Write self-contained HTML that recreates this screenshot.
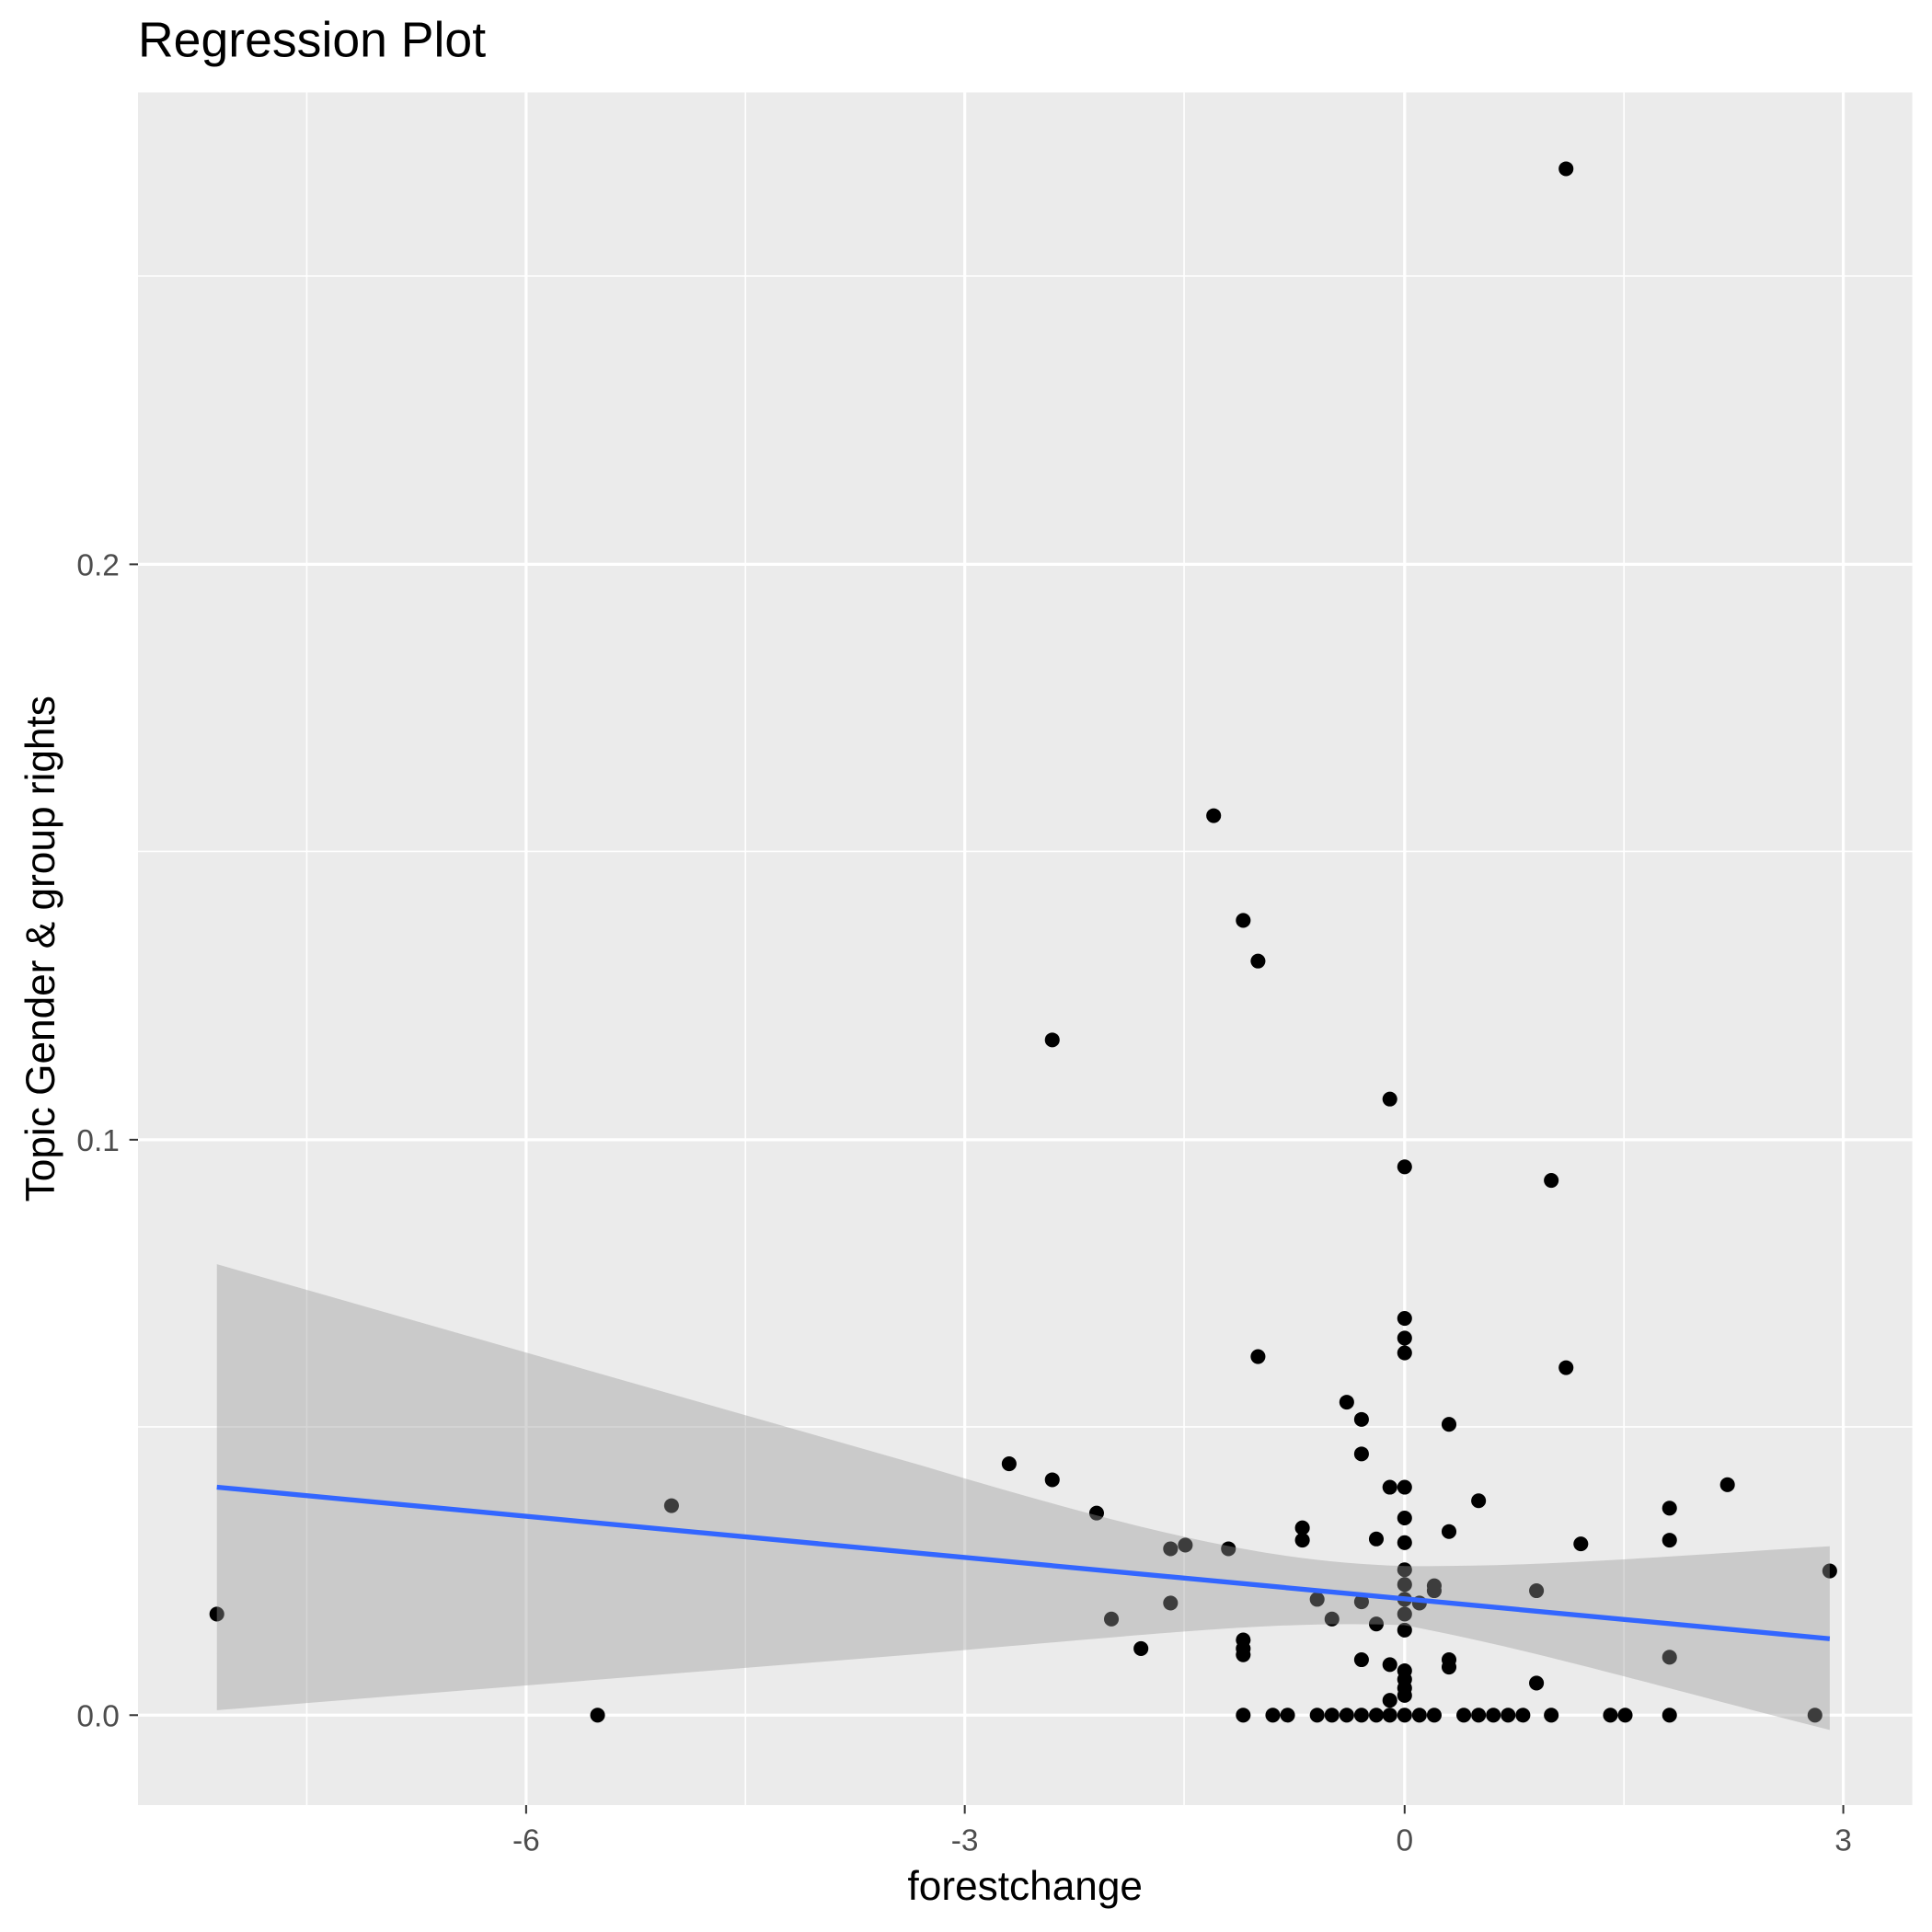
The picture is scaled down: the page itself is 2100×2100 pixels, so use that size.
<!DOCTYPE html>
<html><head><meta charset="utf-8"><style>html,body{margin:0;padding:0;background:#fff}svg{display:block}</style></head>
<body>
<svg width="2100" height="2100" viewBox="0 0 1568 1568" xmlns="http://www.w3.org/2000/svg" font-family="Liberation Sans, sans-serif">
<rect width="1568" height="1568" fill="#fff"/>
<rect x="112" y="75" width="1440" height="1390" fill="#ebebeb"/>
<g stroke="#fff" stroke-width="1.2">
<line x1="249" y1="75" x2="249" y2="1465"/><line x1="605" y1="75" x2="605" y2="1465"/><line x1="961" y1="75" x2="961" y2="1465"/><line x1="1318" y1="75" x2="1318" y2="1465"/>
<line x1="112" y1="1158" x2="1552" y2="1158"/><line x1="112" y1="691" x2="1552" y2="691"/><line x1="112" y1="224" x2="1552" y2="224"/>
</g>
<g stroke="#fff" stroke-width="2.4">
<line x1="427" y1="75" x2="427" y2="1465"/><line x1="783" y1="75" x2="783" y2="1465"/><line x1="1140" y1="75" x2="1140" y2="1465"/><line x1="1496" y1="75" x2="1496" y2="1465"/>
<line x1="112" y1="1392" x2="1552" y2="1392"/><line x1="112" y1="925" x2="1552" y2="925"/><line x1="112" y1="458" x2="1552" y2="458"/>
</g>
<g fill="#000">
<circle cx="1271" cy="137" r="6"/><circle cx="985" cy="662" r="6"/><circle cx="1009" cy="747" r="6"/><circle cx="1021" cy="780" r="6"/><circle cx="854" cy="844" r="6"/><circle cx="1128" cy="892" r="6"/><circle cx="1140" cy="947" r="6"/><circle cx="1259" cy="958" r="6"/><circle cx="1140" cy="1070" r="6"/><circle cx="1140" cy="1086" r="6"/><circle cx="1140" cy="1098" r="6"/><circle cx="1021" cy="1101" r="6"/><circle cx="1271" cy="1110" r="6"/><circle cx="1093" cy="1138" r="6"/><circle cx="1105" cy="1152" r="6"/><circle cx="1176" cy="1156" r="6"/><circle cx="1105" cy="1180" r="6"/><circle cx="819" cy="1188" r="6"/><circle cx="854" cy="1201" r="6"/><circle cx="1402" cy="1205" r="6"/><circle cx="1128" cy="1207" r="6"/><circle cx="1140" cy="1207" r="6"/><circle cx="545" cy="1222" r="6"/><circle cx="1200" cy="1218" r="6"/><circle cx="1355" cy="1224" r="6"/><circle cx="890" cy="1228" r="6"/><circle cx="1140" cy="1232" r="6"/><circle cx="1057" cy="1240" r="6"/><circle cx="1176" cy="1243" r="6"/><circle cx="1057" cy="1250" r="6"/><circle cx="1117" cy="1249" r="6"/><circle cx="1140" cy="1252" r="6"/><circle cx="1355" cy="1250" r="6"/><circle cx="1283" cy="1253" r="6"/><circle cx="962" cy="1254" r="6"/><circle cx="950" cy="1257" r="6"/><circle cx="997" cy="1257" r="6"/><circle cx="1140" cy="1274" r="6"/><circle cx="1485" cy="1275" r="6"/><circle cx="1140" cy="1286" r="6"/><circle cx="1164" cy="1287" r="6"/><circle cx="1164" cy="1291" r="6"/><circle cx="1247" cy="1291" r="6"/><circle cx="1069" cy="1298" r="6"/><circle cx="1105" cy="1300" r="6"/><circle cx="1140" cy="1298" r="6"/><circle cx="1152" cy="1301" r="6"/><circle cx="950" cy="1301" r="6"/><circle cx="176" cy="1310" r="6"/><circle cx="1140" cy="1310" r="6"/><circle cx="1081" cy="1314" r="6"/><circle cx="902" cy="1314" r="6"/><circle cx="1117" cy="1318" r="6"/><circle cx="1140" cy="1323" r="6"/><circle cx="1009" cy="1331" r="6"/><circle cx="926" cy="1338" r="6"/><circle cx="1009" cy="1338" r="6"/><circle cx="1009" cy="1343" r="6"/><circle cx="1355" cy="1345" r="6"/><circle cx="1105" cy="1347" r="6"/><circle cx="1176" cy="1347" r="6"/><circle cx="1176" cy="1353" r="6"/><circle cx="1128" cy="1351" r="6"/><circle cx="1140" cy="1356" r="6"/><circle cx="1140" cy="1363" r="6"/><circle cx="1247" cy="1366" r="6"/><circle cx="1140" cy="1370" r="6"/><circle cx="1140" cy="1376" r="6"/><circle cx="1128" cy="1380" r="6"/>
<circle cx="485" cy="1392" r="6"/><circle cx="1009" cy="1392" r="6"/><circle cx="1033" cy="1392" r="6"/><circle cx="1045" cy="1392" r="6"/><circle cx="1069" cy="1392" r="6"/><circle cx="1081" cy="1392" r="6"/><circle cx="1093" cy="1392" r="6"/><circle cx="1105" cy="1392" r="6"/><circle cx="1117" cy="1392" r="6"/><circle cx="1128" cy="1392" r="6"/><circle cx="1140" cy="1392" r="6"/><circle cx="1152" cy="1392" r="6"/><circle cx="1164" cy="1392" r="6"/><circle cx="1188" cy="1392" r="6"/><circle cx="1200" cy="1392" r="6"/><circle cx="1212" cy="1392" r="6"/><circle cx="1224" cy="1392" r="6"/><circle cx="1236" cy="1392" r="6"/><circle cx="1259" cy="1392" r="6"/><circle cx="1307" cy="1392" r="6"/><circle cx="1319" cy="1392" r="6"/><circle cx="1355" cy="1392" r="6"/><circle cx="1473" cy="1392" r="6"/>
</g>
<path d="M176,1026 L750,1190 C950,1250 1040,1268 1140,1271 C1250,1272 1350,1263 1485,1255 L1485,1404 C1350,1370 1250,1340 1140,1319 C1040,1315 950,1325 750,1342 L176,1388 Z" fill="#999" fill-opacity="0.4"/>
<line x1="176" y1="1207" x2="1485" y2="1330" stroke="#3366ff" stroke-width="4"/>
<g stroke="#333" stroke-width="1.5">
<line x1="427" y1="1465" x2="427" y2="1472"/><line x1="783" y1="1465" x2="783" y2="1472"/><line x1="1140" y1="1465" x2="1140" y2="1472"/><line x1="1496" y1="1465" x2="1496" y2="1472"/>
<line x1="105" y1="1392" x2="112" y2="1392"/><line x1="105" y1="925" x2="112" y2="925"/><line x1="105" y1="458" x2="112" y2="458"/>
</g>
<g fill="#4d4d4d" font-size="25">
<text x="427" y="1502" text-anchor="middle">-6</text><text x="783" y="1502" text-anchor="middle">-3</text><text x="1140" y="1502" text-anchor="middle">0</text><text x="1496" y="1502" text-anchor="middle">3</text>
<text x="97" y="1401" text-anchor="end">0.0</text><text x="97" y="934" text-anchor="end">0.1</text><text x="97" y="467" text-anchor="end">0.2</text>
</g>
<text x="832" y="1542" text-anchor="middle" font-size="33">forestchange</text>
<text transform="translate(44,770) rotate(-90)" text-anchor="middle" font-size="33">Topic Gender &amp; group rights</text>
<text x="112" y="46" font-size="40">Regression Plot</text>
</svg>
</body></html>
